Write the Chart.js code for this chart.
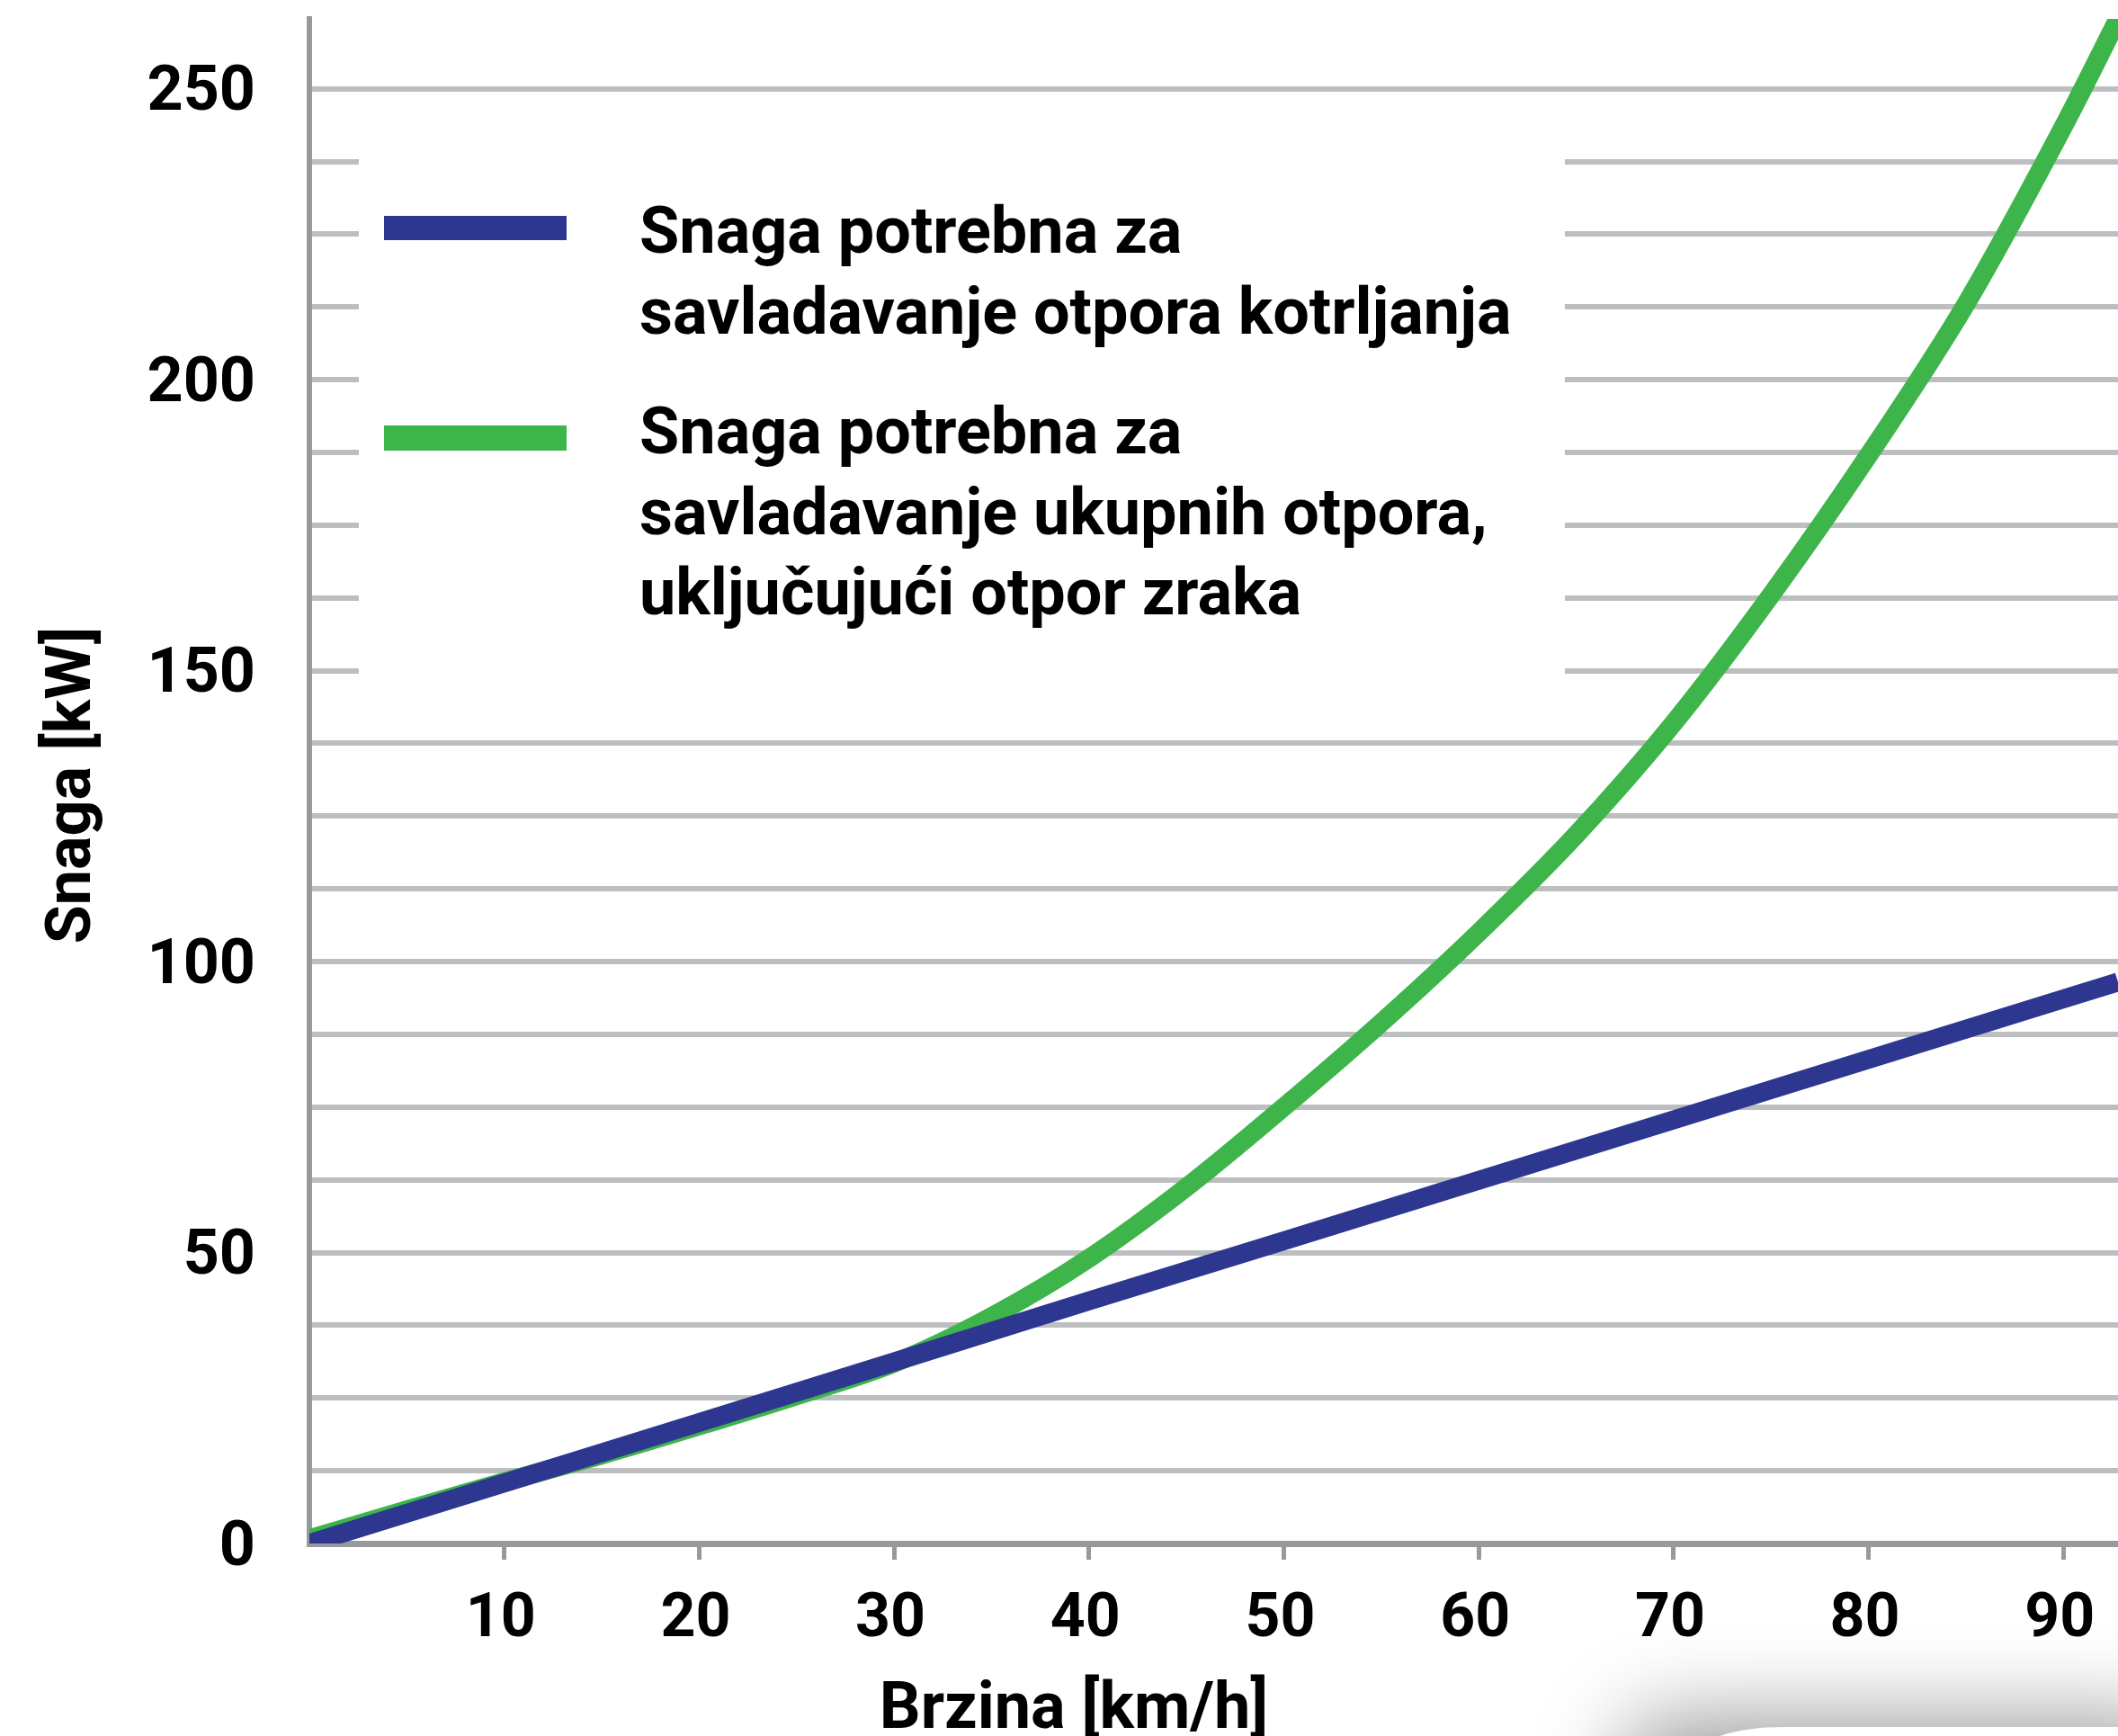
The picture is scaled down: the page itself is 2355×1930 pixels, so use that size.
<!DOCTYPE html>
<html>
<head>
<meta charset="utf-8">
<script src="https://cdn.jsdelivr.net/npm/chart.js@4"></script>
<style>
html,body{margin:0;padding:0;background:#ffffff;}
#wrap{width:2355px;height:1930px;position:relative;}
canvas{display:block;}
</style>
</head>
<body>
<div id="wrap"><canvas id="c" width="2355" height="1930"></canvas></div>
<script>
// ---- data ----
const speedsRolling = [0, 10, 20, 30, 40, 50, 60, 70, 80, 90, 92.8];
const powerRolling  = [0, 10.4, 20.8, 31.2, 41.7, 52.0, 62.4, 72.8, 83.2, 93.6, 96.5];
const speedsTotal = [0, 5, 10, 15, 20, 25, 30, 35, 40, 45, 50, 55, 60, 65, 70, 75, 80, 85, 90, 92.8];
const powerTotal  = [0.8, 5.8, 10.6, 15.2, 20.2, 25.4, 31.0, 39.0, 49.0, 61.2, 75.0, 89.5, 105.0, 121.8, 141.0, 163.0, 187.0, 213.0, 243.5, 262.0];
const yLabelValues = [0, 50, 100, 150, 200, 250];
const labelRolling = ['Snaga potrebna za', 'savladavanje otpora kotrljanja'];
const labelTotal = ['Snaga potrebna za', 'savladavanje ukupnih otpora,', 'uključujući otpor zraka'];
const xTitle = 'Brzina [km/h]';
const yTitle = 'Snaga [kW]';

// ---- styles ----
const BLUE = '#2e3790';
const GREEN = '#3eb54a';
const AXIS = '#98999d';
const GRID = '#bdbec0';
const FONT = 'Roboto';

Chart.defaults.font.family = FONT;

const decorPlugin = {
  id: 'decor',
  beforeDatasetsDraw(chart) {
    const ctx = chart.ctx;
    ctx.save();
    ctx.fillStyle = '#ffffff';
    ctx.fillRect(399, 122, 1740 - 399, 780 - 122);
    ctx.restore();
  },
  afterDraw(chart) {
    const ctx = chart.ctx;
    ctx.save();
    // legend swatches
    ctx.fillStyle = BLUE;
    ctx.fillRect(427, 240, 203, 27);
    ctx.fillStyle = GREEN;
    ctx.fillRect(427, 473, 203, 28);
    // legend text
    ctx.fillStyle = '#000000';
    ctx.font = 'bold 72px ' + FONT;
    ctx.textBaseline = 'alphabetic';
    ctx.textAlign = 'left';
    const lh = 89.5;
    labelRolling.forEach((t, i) => ctx.fillText(t, 711, 281 + i * lh));
    labelTotal.forEach((t, i) => ctx.fillText(t, 711, 504 + i * lh));

    // axis titles
    ctx.textAlign = 'center';
    ctx.textBaseline = 'middle';
    ctx.font = 'bold 72px ' + FONT;
    ctx.fillText(xTitle, 1194, 1903);
    ctx.save();
    ctx.translate(82, 873);
    ctx.rotate(-Math.PI / 2);
    ctx.font = 'bold 70px ' + FONT;
    ctx.fillText(yTitle, 0, 0);
    ctx.restore();

    // soft shadow decoration, bottom right
    ctx.shadowColor = 'rgba(0,0,0,0.38)';
    ctx.shadowBlur = 95;
    ctx.shadowOffsetX = -85;
    ctx.shadowOffsetY = -12;
    ctx.fillStyle = '#ffffff';
    ctx.beginPath();
    ctx.moveTo(1890, 1940);
    ctx.bezierCurveTo(1915, 1926, 1945, 1920, 1985, 1920);
    ctx.lineTo(2500, 1920);
    ctx.lineTo(2500, 2050);
    ctx.lineTo(1890, 2050);
    ctx.closePath();
    ctx.fill();
    ctx.restore();
  }
};

new Chart(document.getElementById('c'), {
  type: 'line',
  data: {
    datasets: [
      {
        label: labelRolling.join(' '),
        data: speedsRolling.map((s, i) => ({x: s, y: powerRolling[i]})),
        borderColor: BLUE,
        backgroundColor: BLUE,
        borderWidth: 21,
        pointRadius: 0,
        tension: 0,
        fill: false
      },
      {
        label: labelTotal.join(' '),
        data: speedsTotal.map((s, i) => ({x: s, y: powerTotal[i]})),
        borderColor: GREEN,
        backgroundColor: GREEN,
        borderWidth: 21,
        pointRadius: 0,
        cubicInterpolationMode: 'monotone',
        fill: false
      }
    ]
  },
  options: {
    responsive: false,
    animation: false,
    devicePixelRatio: 1,
    layout: {padding: {top: 21, right: 0, bottom: 0, left: 0}},
    plugins: {legend: {display: false}, tooltip: {enabled: false}},
    scales: {
      x: {
        type: 'linear',
        min: 0,
        max: 92.8,
        border: {display: true, color: AXIS, width: 7},
        grid: {
          display: true,
          drawOnChartArea: false,
          drawTicks: true,
          tickLength: 18,
          tickWidth: 5,
          tickColor: (c) => (c.tick && c.tick.value === 0) ? 'rgba(0,0,0,0)' : AXIS
        },
        ticks: {
          stepSize: 10,
          includeBounds: false,
          autoSkip: false,
          maxRotation: 0,
          padding: 27,
          labelOffset: -4,
          color: '#000000',
          font: {size: 68, weight: 'bold'},
          callback: (v) => v === 0 ? '' : String(v)
        },
        title: {display: false},
        afterFit(s) {
          s.height = 214;
          s.paddingLeft = 0;
          s.paddingRight = 0;
        }
      },
      y: {
        min: 0,
        max: 262,
        border: {display: true, color: AXIS, width: 6},
        grid: {
          color: (c) => (c.tick && c.tick.value === 0) ? 'rgba(0,0,0,0)' : GRID,
          lineWidth: 6,
          drawTicks: false
        },
        ticks: {
          stepSize: 12.5,
          includeBounds: false,
          autoSkip: false,
          padding: 60,
          labelOffset: 6,
          color: '#000000',
          font: {size: 70, weight: 'bold'},
          callback: (v) => yLabelValues.includes(v) ? String(v) : ''
        },
        title: {display: false},
        afterFit(s) {
          s.width = 344;
          s.paddingTop = 0;
          s.paddingBottom = 0;
        }
      }
    }
  },
  plugins: [decorPlugin]
});
</script>
</body>
</html>
